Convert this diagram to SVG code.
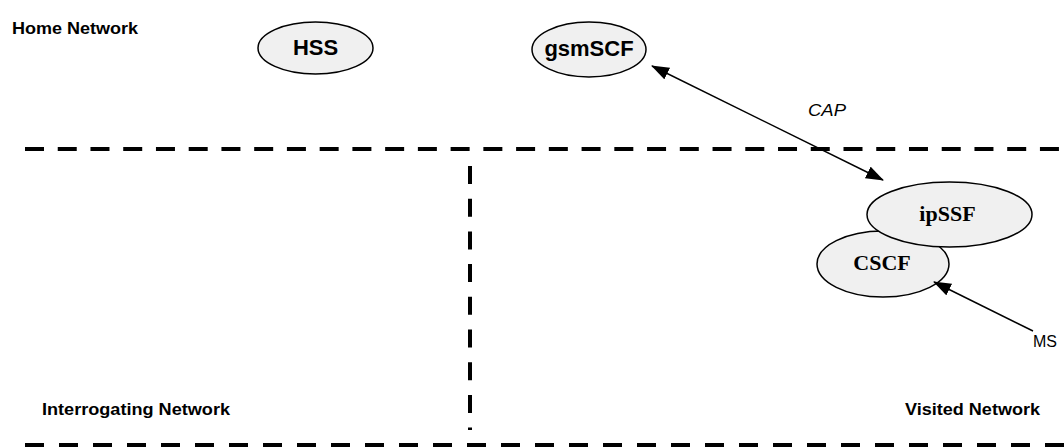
<svg xmlns="http://www.w3.org/2000/svg" width="1064" height="447" viewBox="0 0 1064 447">
<style>
.bg{fill:#ffffff}
.node{fill:#f0f0f0;stroke:#000;stroke-width:1.5}
.sans{font-family:"Liberation Sans",Arial,sans-serif;fill:#000}
.serif{font-family:"Liberation Serif","Times New Roman",serif;fill:#000}
.nlab{font-size:22px;font-weight:bold;text-anchor:middle}
.reg{font-size:16px;font-weight:bold}
.lab{font-size:16px}
.dash{fill:none;stroke:#000;stroke-width:4}
.conn{fill:none;stroke:#000;stroke-width:1.5}
</style>
<defs>
<marker id="ah" viewBox="0 0 18 13" refX="17" refY="6.5" markerWidth="18" markerHeight="13" markerUnits="userSpaceOnUse" orient="auto-start-reverse">
<path d="M0,0 L18,6.5 L0,13 z" fill="#000"/>
</marker>
</defs>
<rect class="bg" x="0" y="0" width="1064" height="447"/>
<g id="boundaries">
<line class="dash" x1="25" y1="149" x2="1064" y2="149" stroke-dasharray="19 13.74"/>
<line class="dash" x1="25" y1="445" x2="1064" y2="445" stroke-dasharray="19 15"/>
<line class="dash" x1="470" y1="166" x2="470" y2="430" stroke-dasharray="18 14.7"/>
</g>
<g id="region-labels">
<text class="sans reg" x="12" y="34" textLength="126" lengthAdjust="spacingAndGlyphs">Home Network</text>
<text class="sans reg" x="42" y="415" textLength="188" lengthAdjust="spacingAndGlyphs">Interrogating Network</text>
<text class="sans reg" x="905" y="415" textLength="135" lengthAdjust="spacingAndGlyphs">Visited Network</text>
</g>
<g id="HSS">
<ellipse class="node" cx="315.5" cy="48" rx="57.5" ry="26"/>
<text class="sans nlab" x="315.5" y="55">HSS</text>
</g>
<g id="gsmSCF">
<ellipse class="node" cx="589" cy="49.5" rx="57" ry="27.5"/>
<text class="sans nlab" x="589" y="56">gsmSCF</text>
</g>
<g id="CSCF">
<ellipse class="node" cx="883" cy="264" rx="66" ry="33"/>
<text class="serif nlab" x="882" y="270">CSCF</text>
</g>
<g id="ipSSF">
<ellipse class="node" cx="949.5" cy="214.5" rx="82.5" ry="32.5"/>
<text class="serif nlab" x="947.5" y="221">ipSSF</text>
</g>
<g id="connectors">
<line class="conn" x1="883" y1="180" x2="652" y2="66" marker-start="url(#ah)" marker-end="url(#ah)"/>
<text class="sans lab" x="808" y="116" font-style="italic" textLength="38" lengthAdjust="spacingAndGlyphs">CAP</text>
<line class="conn" x1="1033" y1="331" x2="934" y2="282" marker-end="url(#ah)"/>
<text class="sans lab" x="1033" y="347">MS</text>
</g>
</svg>
